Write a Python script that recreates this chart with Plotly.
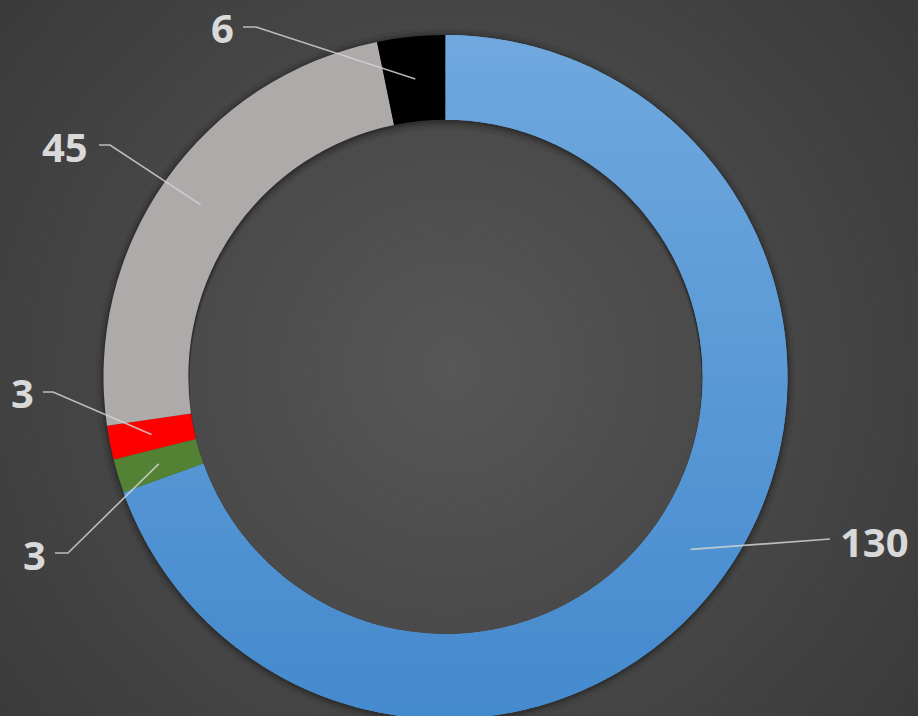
import math
import plotly.graph_objects as go

# ---- data ----
categories = ["A", "B", "C", "D", "E"]
values = [130, 3, 3, 45, 6]
slice_colors = ["#5b9bd5", "#548235", "#ff0000", "#aeaaaa", "#000000"]

# ---- layout constants (pixels) ----
W, H = 918, 719                # figure slightly taller than window: ring is cut at bottom
CX, CY = 445.5, 377.0          # pie centre
R_OUT = 342.0
HOLE = 0.752
R_IN = R_OUT * HOLE
label_xy = [(874, 541), (34, 554), (22, 392), (65, 146), (222, 28)]
elbow_xy = [None, (68, 553), (53, 392), (110, 145), (256, 27)]
end_xy = [(830, 539), (55, 553), (43, 392), (99, 145), (243, 27)]
BLUE_TOP = (112, 168, 222)
BLUE_BOT = (68, 138, 206)


def px(x):
    return x / W


def py(y):
    return 1 - y / H


def to_path(pts):
    return "M " + " L ".join(f"{px(x):.5f},{py(y):.5f}" for x, y in pts) + " Z"


def circle_pts(cx, cy, r, n=180, reverse=False):
    pts = [(cx + r * math.cos(2 * math.pi * k / n), cy + r * math.sin(2 * math.pi * k / n))
           for k in range(n)]
    return pts[::-1] if reverse else pts


def ring_path(c1, r1, c2, r2):
    return to_path(circle_pts(c1[0], c1[1], r1)) + " " + \
        to_path(circle_pts(c2[0], c2[1], r2, reverse=True))


def clip_half(poly, y0, keep_above):
    def inside(p):
        return p[1] >= y0 if keep_above else p[1] <= y0
    out = []
    n = len(poly)
    for i in range(n):
        cur, prev = poly[i], poly[i - 1]
        ci, pi_ = inside(cur), inside(prev)
        if ci != pi_:
            t = (y0 - prev[1]) / (cur[1] - prev[1])
            out.append((prev[0] + t * (cur[0] - prev[0]), y0))
        if ci:
            out.append(cur)
    return out


shapes = []

# radial gradient background
GCX, GCY = 452, 368
RMAX = math.hypot(GCX, GCY) + 10
N = 60
for i in range(N):
    t = 1 - i / N
    r = RMAX * t
    v = int(round(87 - 29 * t))
    shapes.append(dict(type="circle", xref="paper", yref="paper", layer="below",
                       x0=px(GCX - r), x1=px(GCX + r), y0=py(GCY + r), y1=py(GCY - r),
                       fillcolor=f"rgb({v},{v},{v})", line=dict(width=0)))

# soft outer shadow of the ring (annulus only)
for k, a in [(8, 0.05), (5, 0.07), (3, 0.09), (1.5, 0.12)]:
    shapes.append(dict(type="path", xref="paper", yref="paper", layer="below",
                       path=ring_path((CX, CY + 1), R_OUT + k, (CX, CY), R_OUT - 15),
                       fillcolor=f"rgba(0,0,0,{a})", line=dict(width=0)))

# inner shadow cast onto the hole (strongest at the top)
for d, a in [(9, 0.06), (6, 0.07), (4, 0.08), (2, 0.10), (1, 0.10)]:
    shapes.append(dict(type="path", xref="paper", yref="paper", layer="below",
                       path=ring_path((CX, CY), R_IN + 1, (CX, CY + d), R_IN - 1),
                       fillcolor=f"rgba(0,0,0,{a})", line=dict(width=0)))

# vertical gradient on the first (blue) slice, derived from its angular extent
total = sum(values)
a_end = values[0] / total * 2 * math.pi
nseg = 200
sector = [(CX + R_OUT * math.sin(a_end * k / nseg), CY - R_OUT * math.cos(a_end * k / nseg))
          for k in range(nseg + 1)]
sector += [(CX + R_IN * math.sin(a_end * k / nseg), CY - R_IN * math.cos(a_end * k / nseg))
           for k in range(nseg, -1, -1)]
band = 12
ytop, ybot = CY - R_OUT, CY + R_OUT
y = ytop
while y < ybot:
    poly = clip_half(clip_half(sector, y - 0.6, True), y + band + 0.6, False)
    if len(poly) >= 3:
        f = min(max((y + band / 2 - ytop) / (ybot - ytop), 0), 1)
        c = tuple(int(round(BLUE_TOP[j] + (BLUE_BOT[j] - BLUE_TOP[j]) * f)) for j in range(3))
        shapes.append(dict(type="path", xref="paper", yref="paper", layer="above",
                           path=to_path(poly), fillcolor=f"rgb{c}", line=dict(width=0)))
    y += band

# leader lines from slice middles
r_mid = R_OUT * (1 + HOLE) / 2
cum = 0
annotations = []
for i, v in enumerate(values):
    mid = (cum + v / 2) / total * 2 * math.pi
    cum += v
    sx = CX + r_mid * math.sin(mid)
    sy = CY - r_mid * math.cos(mid)
    pts = [(sx, sy)]
    if elbow_xy[i] is not None:
        pts.append(elbow_xy[i])
    pts.append(end_xy[i])
    path = "M " + " L ".join(f"{px(x):.5f},{py(y):.5f}" for x, y in pts)
    shapes.append(dict(type="path", xref="paper", yref="paper", layer="above", path=path,
                       line=dict(color="rgba(210,210,210,0.85)", width=1.6)))
    lx, ly = label_xy[i]
    annotations.append(dict(x=px(lx), y=py(ly), xref="paper", yref="paper",
                            text=f"<b>{v}</b>", showarrow=False,
                            xanchor="center", yanchor="middle",
                            font=dict(family="Open Sans, Lato, sans-serif", size=40,
                                      color="#d9d9d9")))

fig = go.Figure(go.Pie(
    labels=categories,
    values=values,
    marker=dict(colors=slice_colors, line=dict(width=0)),
    hole=HOLE,
    sort=False,
    direction="clockwise",
    rotation=0,
    textinfo="none",
    showlegend=False,
    domain=dict(x=[0, 2 * CX / W], y=[0, 2 * R_OUT / H]),
))

fig.update_layout(
    width=W, height=H,
    margin=dict(l=0, r=0, t=0, b=0),
    paper_bgcolor="#484848",
    plot_bgcolor="rgba(0,0,0,0)",
    shapes=shapes,
    annotations=annotations,
)

fig.write_html("out.html", config={"displayModeBar": False},
               post_script="document.body.style.margin='0px';"
                           "document.body.style.overflow='hidden';"
                           "document.documentElement.style.overflow='hidden';")
